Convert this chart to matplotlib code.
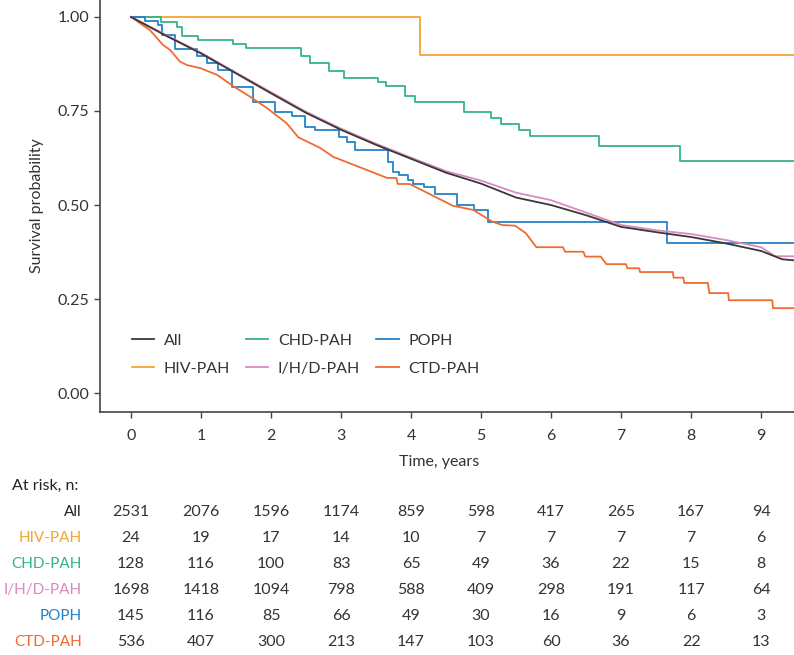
import numpy as np
import matplotlib
matplotlib.use("Agg")
import matplotlib.pyplot as plt
import matplotlib.transforms as mtransforms

plt.rcParams['font.family'] = ['Lato', 'DejaVu Sans']
plt.rcParams['font.size'] = 11

# survival curves (time in years, survival probability)
all_t = [0, 0.25, 0.5, 1.0, 1.5, 2.0, 2.5, 3.0, 3.5, 4.0, 4.5, 5.0, 5.5, 6.0, 6.5,
         7.0, 7.5, 8.0, 8.5, 9.0, 9.3, 9.47]
all_s = [1.0, 0.975, 0.95, 0.903, 0.85, 0.797, 0.745, 0.70, 0.66, 0.623, 0.586,
         0.557, 0.52, 0.50, 0.473, 0.442, 0.428, 0.415, 0.398, 0.378, 0.356, 0.353]

ihd_t = [0, 0.25, 0.5, 1.0, 1.5, 2.0, 2.5, 3.0, 3.5, 4.0, 4.5, 5.0, 5.5, 6.0, 6.5,
         7.0, 7.5, 8.0, 8.5, 9.0, 9.2, 9.47]
ihd_s = [1.0, 0.976, 0.952, 0.905, 0.852, 0.80, 0.748, 0.703, 0.663, 0.626, 0.59,
         0.565, 0.533, 0.513, 0.48, 0.447, 0.433, 0.423, 0.407, 0.388, 0.364, 0.364]

hiv_t = [0, 4.13, 9.47]
hiv_s = [1.0, 0.90, 0.90]

chd_t = [0, 0.43, 0.66, 0.73, 0.96, 1.46, 1.64, 2.43, 2.56, 2.83, 3.04, 3.53, 3.64,
         3.91, 4.06, 4.76, 5.14, 5.29, 5.54, 5.70, 6.69, 7.84, 9.47]
chd_s = [1.0, 0.987, 0.973, 0.95, 0.94, 0.928, 0.918, 0.895, 0.878, 0.857, 0.837,
         0.826, 0.816, 0.79, 0.775, 0.748, 0.732, 0.716, 0.70, 0.684, 0.657, 0.617, 0.617]

poph_t = [0, 0.2, 0.39, 0.44, 0.63, 0.94, 1.09, 1.24, 1.44, 1.74, 2.06, 2.30, 2.49,
          2.63, 2.97, 3.09, 3.20, 3.67, 3.74, 3.83, 3.96, 4.03, 4.19, 4.34, 4.66,
          4.90, 5.10, 7.66, 9.47]
poph_s = [1.0, 0.99, 0.979, 0.952, 0.915, 0.896, 0.877, 0.859, 0.815, 0.773, 0.747,
          0.737, 0.707, 0.70, 0.682, 0.667, 0.646, 0.615, 0.589, 0.58, 0.566, 0.556,
          0.548, 0.529, 0.50, 0.487, 0.455, 0.40, 0.40]

ctd_t = [0, 0.27, 0.46, 0.56, 0.70, 0.80, 0.99, 1.23, 1.46, 1.70, 1.94, 2.22, 2.39,
         2.70, 2.89, 3.66, 3.79, 3.81, 3.98, 4.60, 4.89, 5.16, 5.30, 5.49, 5.64,
         5.79, 6.17, 6.20, 6.46, 6.49, 6.71, 6.79, 7.07, 7.09, 7.26, 7.27, 7.74,
         7.75, 7.89, 7.90, 8.24, 8.26, 8.53, 8.54, 9.16, 9.17, 9.47]
ctd_s = [1.0, 0.965, 0.925, 0.912, 0.881, 0.872, 0.864, 0.846, 0.816, 0.788, 0.758,
         0.718, 0.68, 0.652, 0.628, 0.572, 0.572, 0.556, 0.556, 0.498, 0.487, 0.456,
         0.447, 0.445, 0.425, 0.388, 0.388, 0.376, 0.376, 0.363, 0.363, 0.343, 0.343,
         0.332, 0.332, 0.322, 0.322, 0.307, 0.307, 0.293, 0.293, 0.266, 0.266, 0.247,
         0.247, 0.226, 0.226]

groups = ['All', 'HIV-PAH', 'CHD-PAH', 'I/H/D-PAH', 'POPH', 'CTD-PAH']
colors = ['#383838', '#f2a533', '#35b48b', '#d98ac0', '#2482c8', '#ef6b30']

years = list(range(10))
at_risk = {
    'All': [2531, 2076, 1596, 1174, 859, 598, 417, 265, 167, 94],
    'HIV-PAH': [24, 19, 17, 14, 10, 7, 7, 7, 7, 6],
    'CHD-PAH': [128, 116, 100, 83, 65, 49, 36, 22, 15, 8],
    'I/H/D-PAH': [1698, 1418, 1094, 798, 588, 409, 298, 191, 117, 64],
    'POPH': [145, 116, 85, 66, 49, 30, 16, 9, 6, 3],
    'CTD-PAH': [536, 407, 300, 213, 147, 103, 60, 36, 22, 13],
}

fig = plt.figure(figsize=(7.94, 6.55), dpi=100)
ax = fig.add_axes([100 / 794, 1 - 412 / 655, 694 / 794, 412 / 655])

lw = 1.3
ax.plot(all_t, all_s, color=colors[0], lw=lw, label=groups[0], zorder=4)
ax.plot(hiv_t, hiv_s, color=colors[1], lw=lw, label=groups[1], drawstyle='steps-post')
ax.plot(chd_t, chd_s, color=colors[2], lw=lw, label=groups[2], drawstyle='steps-post')
ax.plot(ihd_t, ihd_s, color=colors[3], lw=lw, label=groups[3], zorder=3)
ax.plot(poph_t, poph_s, color=colors[4], lw=lw, label=groups[4], drawstyle='steps-post')
ax.plot(ctd_t, ctd_s, color=colors[5], lw=lw, label=groups[5])

ax.set_xlim(-0.443, 9.47)
ax.set_ylim(-0.05, 1.045)
ax.set_xticks(years)
ax.set_yticks([0, 0.25, 0.5, 0.75, 1.0])
ax.set_yticklabels(['0.00', '0.25', '0.50', '0.75', '1.00'])
for side in ['top', 'right']:
    ax.spines[side].set_visible(False)
for side in ['left', 'bottom']:
    ax.spines[side].set_color('#444444')
    ax.spines[side].set_linewidth(1.2)
ax.tick_params(axis='both', colors='#444444', labelcolor='#333333', labelsize=11.5,
               length=4, width=1)
ax.tick_params(axis='x', pad=8)
ax.set_xlabel('Time, years', fontsize=11.5, color='#333333')
ax.xaxis.set_label_coords((439 - 100) / 694, -0.105)
ax.set_ylabel('Survival probability', fontsize=11.5, color='#333333', labelpad=10)

leg = ax.legend(ncol=3, loc='upper left', bbox_to_anchor=(0.025, 0.225), frameon=False,
                fontsize=11.5, handlelength=1.4, handletextpad=0.6, columnspacing=1.0,
                labelspacing=0.85)
for txt in leg.get_texts():
    txt.set_color('#333333')

# at-risk table
trans = mtransforms.blended_transform_factory(ax.transData, fig.transFigure)
fig.text(12 / 794, 1 - 486 / 655, 'At risk, n:', ha='left', va='center',
         fontsize=11.5, color='#222222')
for i, g in enumerate(groups):
    y = 1 - (512 + 26 * i) / 655
    fig.text(82 / 794, y, g, ha='right', va='center', fontsize=11,
             color='#222222' if g == 'All' else colors[i])
    for yr, n in zip(years, at_risk[g]):
        ax.text(yr, y, str(n), transform=trans, ha='center', va='center',
                fontsize=11.5, color='#333333', clip_on=False)

fig.savefig('out.png', dpi=100)
